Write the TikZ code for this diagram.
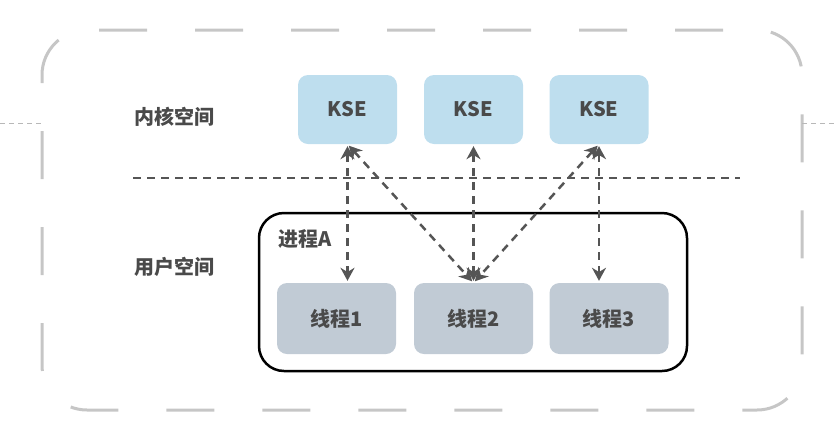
\documentclass[tikz,border=0pt]{standalone}
\usepackage{fontspec}
\setmainfont{Noto Sans CJK SC}
\usetikzlibrary{arrows.meta, positioning}

\definecolor{kse}{HTML}{BEDEEE}
\definecolor{thr}{HTML}{C1CBD5}
\definecolor{txt}{HTML}{4A4A4A}
\definecolor{rim}{HTML}{C6C6C6}
\definecolor{ink}{HTML}{555555}

\begin{document}
\begin{tikzpicture}[x=1pt, y=-1pt,
        lbl/.style={text=txt, font=\bfseries\fontsize{20}{20}\selectfont},
        kbox/.style={lbl, fill=kse, rounded corners=10pt, minimum width=99pt, minimum height=69pt},
        tbox/.style={lbl, fill=thr, rounded corners=10pt, minimum width=119pt, minimum height=71pt},
        link/.style={{Stealth[length=13pt,width=14pt]}-{Stealth[length=13pt,width=14pt]}, ink, line width=2.5pt, dash pattern=on 8pt off 6pt}]
                    \useasboundingbox (0,0) rectangle (838,440);

                    % outer frame
                    \draw [rim, line width=3pt, rounded corners=45pt, dash pattern=on 48pt off 48pt, dash phase=84pt]
                        (87,30) -- (802,30) -- (802,410) -- (42,410) -- (42,30) -- (87,30);
                    \coordinate (el) at (0,123);
                    \coordinate (er) at (838,123);
                    \draw [rim!80!gray, line width=1pt, dash pattern=on 5pt off 4pt] (el) -- (42,123);
                    \draw [rim!80!gray, line width=1pt, dash pattern=on 5pt off 4pt] (802,123) -- (er);

                    \node (kern) [lbl] at (174,117) {内核空间};
                    \node (user) [lbl] at (174,267) {用户空间};

                    \node (k1) [kbox] at (347.5,109.5) {KSE};
                    \node (k2) [kbox] at (473.5,109.5) {KSE};
                    \node (k3) [kbox] at (599,109.5) {KSE};

                    % kernel / user border
                    \coordinate (sl) at (133,178);
                    \coordinate (sr) at (740,178);
                    \draw [ink, line width=2.5pt, dash pattern=on 8pt off 6pt] (sl) -- (sr);

                    \node (pa) [draw, line width=2.5pt, rounded corners=25pt, minimum width=428pt, minimum height=158pt] at (473,292) {};
                    \node (pname) [lbl, anchor=west, inner sep=0pt] at (278,239) {进程A};

                    \node (t1) [tbox] at (336.5,318.5) {线程1};
                    \node (t2) [tbox] at (473.5,318.5) {线程2};
                    \node (t3) [tbox] at (609,318.5) {线程3};

                    \path [link, shorten <=2pt, shorten >=2pt]
                        (k1.south) edge (k1.south |- t1.north)
                        (k1.south) edge (t2.north)
                        (k2.south) edge (t2.north)
                        (k3.south) edge (t2.north)
                        (k3.south) edge (k3.south |- t3.north);
                \end{tikzpicture}
\end{document}
